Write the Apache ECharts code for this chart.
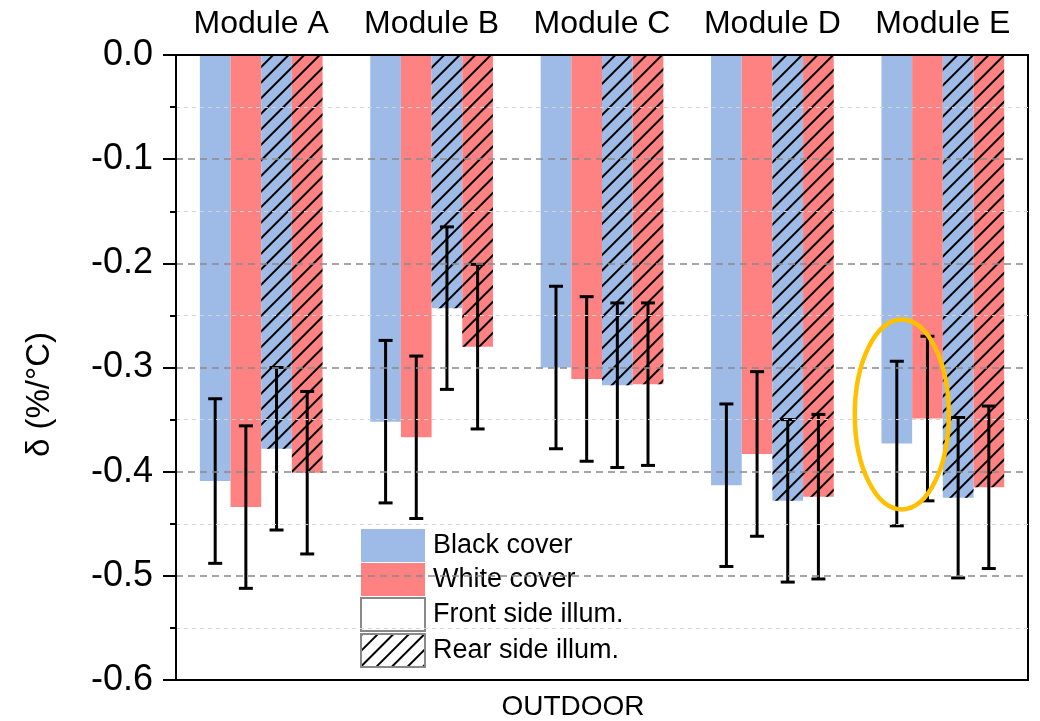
<!DOCTYPE html>
<html>
<head>
<meta charset="utf-8">
<script src="https://cdn.jsdelivr.net/npm/echarts@6/dist/echarts.min.js"></script>
<style>
	html, body { margin: 0; padding: 0; background: #fff; }
	#main { width: 1040px; height: 721px; }
</style>
</head>
<body>
<div id="main"></div>
<script>
	var modules = ['Module A', 'Module B', 'Module C', 'Module D', 'Module E'];
	var yTicks = [-0.6, -0.5, -0.4, -0.3, -0.2, -0.1, 0.0];

	// bar values (δ, %/°C)
	var blackFront = [-0.409, -0.352, -0.300, -0.413, -0.373];
	var whiteFront = [-0.434, -0.367, -0.311, -0.383, -0.349];
	var blackRear = [-0.378, -0.243, -0.317, -0.428, -0.425];
	var whiteRear = [-0.401, -0.280, -0.316, -0.424, -0.415];

	// error bar half widths
	var blackFrontErr = [0.079, 0.078, 0.078, 0.078, 0.079];
	var whiteFrontErr = [0.078, 0.078, 0.079, 0.079, 0.079];
	var blackRearErr = [0.078, 0.078, 0.079, 0.078, 0.077];
	var whiteRearErr = [0.078, 0.079, 0.078, 0.079, 0.078];

	var font = 'Arial, "Liberation Sans", sans-serif';
	var blue = '#9DBBE6';
	var red = '#FF8282';
	var hatch = {
		symbol: 'rect',
		symbolSize: 1,
		color: '#000',
		dashArrayX: [1, 0],
		dashArrayY: [1.3, 8.2],
		rotation: -Math.PI / 4
	};

	function errData(vals, errs) {
		return vals.map(function (v, i) {
			return [i, v - errs[i], v + errs[i]];
		});
	}

	function errorRender(slot) {
		return function (params, api) {
			var cat = api.value(0);
			var lo = api.coord([cat, api.value(1)]);
			var hi = api.coord([cat, api.value(2)]);
			var barW = api.size([1, 0])[0] * 0.72 / 4;
			var x = lo[0] + (slot - 1.5) * barW;
			var cap = 7;
			var st = { stroke: '#000', lineWidth: 3 };
			return {
				type: 'group',
				children: [
					{ type: 'line', shape: { x1: x, y1: hi[1], x2: x, y2: lo[1] }, style: st },
					{ type: 'line', shape: { x1: x - cap, y1: hi[1], x2: x + cap, y2: hi[1] }, style: st },
					{ type: 'line', shape: { x1: x - cap, y1: lo[1], x2: x + cap, y2: lo[1] }, style: st }
				]
			};
		};
	}

	function barSeries(name, data, color, stack, decal) {
		var s = {
			name: name,
			type: 'bar',
			stack: stack,
			data: data,
			barGap: '0%',
			barCategoryGap: '28%',
			itemStyle: { color: color },
			emphasis: { disabled: true }
		};
		if (decal) s.itemStyle.decal = decal;
		return s;
	}

	function errSeries(data, slot) {
		return {
			type: 'custom',
			renderItem: errorRender(slot),
			data: data,
			encode: { x: 0, y: [1, 2] },
			z: 3,
			silent: true
		};
	}

	var chart = echarts.init(document.getElementById('main'));
	var option = {
		animation: false,
		textStyle: { fontFamily: font },
		grid: {
			left: 176, right: 12, top: 55, bottom: 41,
			containLabel: false,
			outerBoundsMode: 'none',
			show: true, borderColor: '#000', borderWidth: 2
		},
		legend: {
			orient: 'vertical',
			left: 325,
			top: 520,
			padding: [9, 68, 8, 35],
			backgroundColor: '#fff',
			itemWidth: 64,
			itemHeight: 33,
			itemGap: 1,
			icon: 'rect',
			selectedMode: false,
			data: ['Black cover', 'White cover', 'Front side illum.', 'Rear side illum.'],
			textStyle: { fontSize: 27, color: '#000', fontFamily: font, padding: [0, 0, 0, 3] }
		},
		xAxis: [
			{
				type: 'category',
				position: 'top',
				data: modules,
				z: 10,
				axisLine: { lineStyle: { color: '#000', width: 2 } },
				axisTick: { alignWithLabel: true, length: 10, lineStyle: { color: '#000', width: 2 } },
				axisLabel: { interval: 0, fontSize: 32, color: '#000', margin: 15, fontFamily: font },
				splitLine: { show: false }
			},
			{
				type: 'category',
				position: 'bottom',
				data: modules,
				z: 10,
				axisLine: { lineStyle: { color: '#000', width: 2 } },
				axisTick: { show: false },
				axisLabel: { show: false },
				name: 'OUTDOOR',
				nameLocation: 'middle',
				nameGap: 13,
				nameTextStyle: { fontSize: 28, color: '#000', fontFamily: font, padding: [0, 58, 0, 0], verticalAlign: 'top' }
			},
			{
				type: 'category',
				position: 'top',
				data: modules,
				z: 10,
				axisLine: { show: false },
				axisTick: { alignWithLabel: false, length: 5, lineStyle: { color: '#000', width: 2 } },
				axisLabel: { show: false }
			}
		],
		yAxis: {
			type: 'value',
			min: yTicks[0],
			max: yTicks[yTicks.length - 1],
			interval: 0.1,
			z: 10,
			name: 'δ (%/°C)',
			nameLocation: 'middle',
			nameGap: 120,
			nameTextStyle: { fontSize: 33, color: '#000', fontFamily: font, padding: [0, 54, 0, 0] },
			axisLine: { show: true, lineStyle: { color: '#000', width: 2 } },
			axisTick: { show: true, length: 13, lineStyle: { color: '#000', width: 2 } },
			minorTick: { show: true, splitNumber: 2, length: 6, lineStyle: { color: '#000', width: 2 } },
			axisLabel: {
				fontSize: 36, color: '#000', margin: 23, fontFamily: font,
				formatter: function (v) { return v.toFixed(1); }
			},
			splitLine: { show: true, lineStyle: { color: '#8a8a8a', width: 1.5, type: [7, 5] } },
			minorSplitLine: { show: true, lineStyle: { color: '#d4d4d4', width: 1, type: [4, 4] } }
		},
		series: [
			barSeries('Black cover', blackFront, blue, 's1'),
			barSeries('Front side illum.', [], '#fff', 's1'),
			barSeries('White cover', whiteFront, red, 's2'),
			barSeries('Black cover rear', blackRear, blue, 's3', hatch),
			barSeries('White cover rear', whiteRear, red, 's4', hatch),
			barSeries('Rear side illum.', [], '#fff', 's4', hatch),
			errSeries(errData(blackFront, blackFrontErr), 0),
			errSeries(errData(whiteFront, whiteFrontErr), 1),
			errSeries(errData(blackRear, blackRearErr), 2),
			errSeries(errData(whiteRear, whiteRearErr), 3)
		]
	};
	option.series[1].itemStyle.borderColor = '#888';
	option.series[1].itemStyle.borderWidth = 1.5;
	option.series[5].itemStyle.borderColor = '#888';
	option.series[5].itemStyle.borderWidth = 1.5;
	chart.setOption(option);

	// highlight ellipse around Module E black-cover bar
	var c = chart.convertToPixel({ xAxisIndex: 0, yAxisIndex: 0 }, ['Module E', -0.345]);
	chart.setOption({
		graphic: [{
			type: 'ellipse',
			shape: { cx: c[0] - 41, cy: c[1], rx: 47, ry: 95 },
			style: { fill: 'none', stroke: '#FFC000', lineWidth: 4.5 },
			z: 100
		}]
	});
</script>
</body>
</html>
